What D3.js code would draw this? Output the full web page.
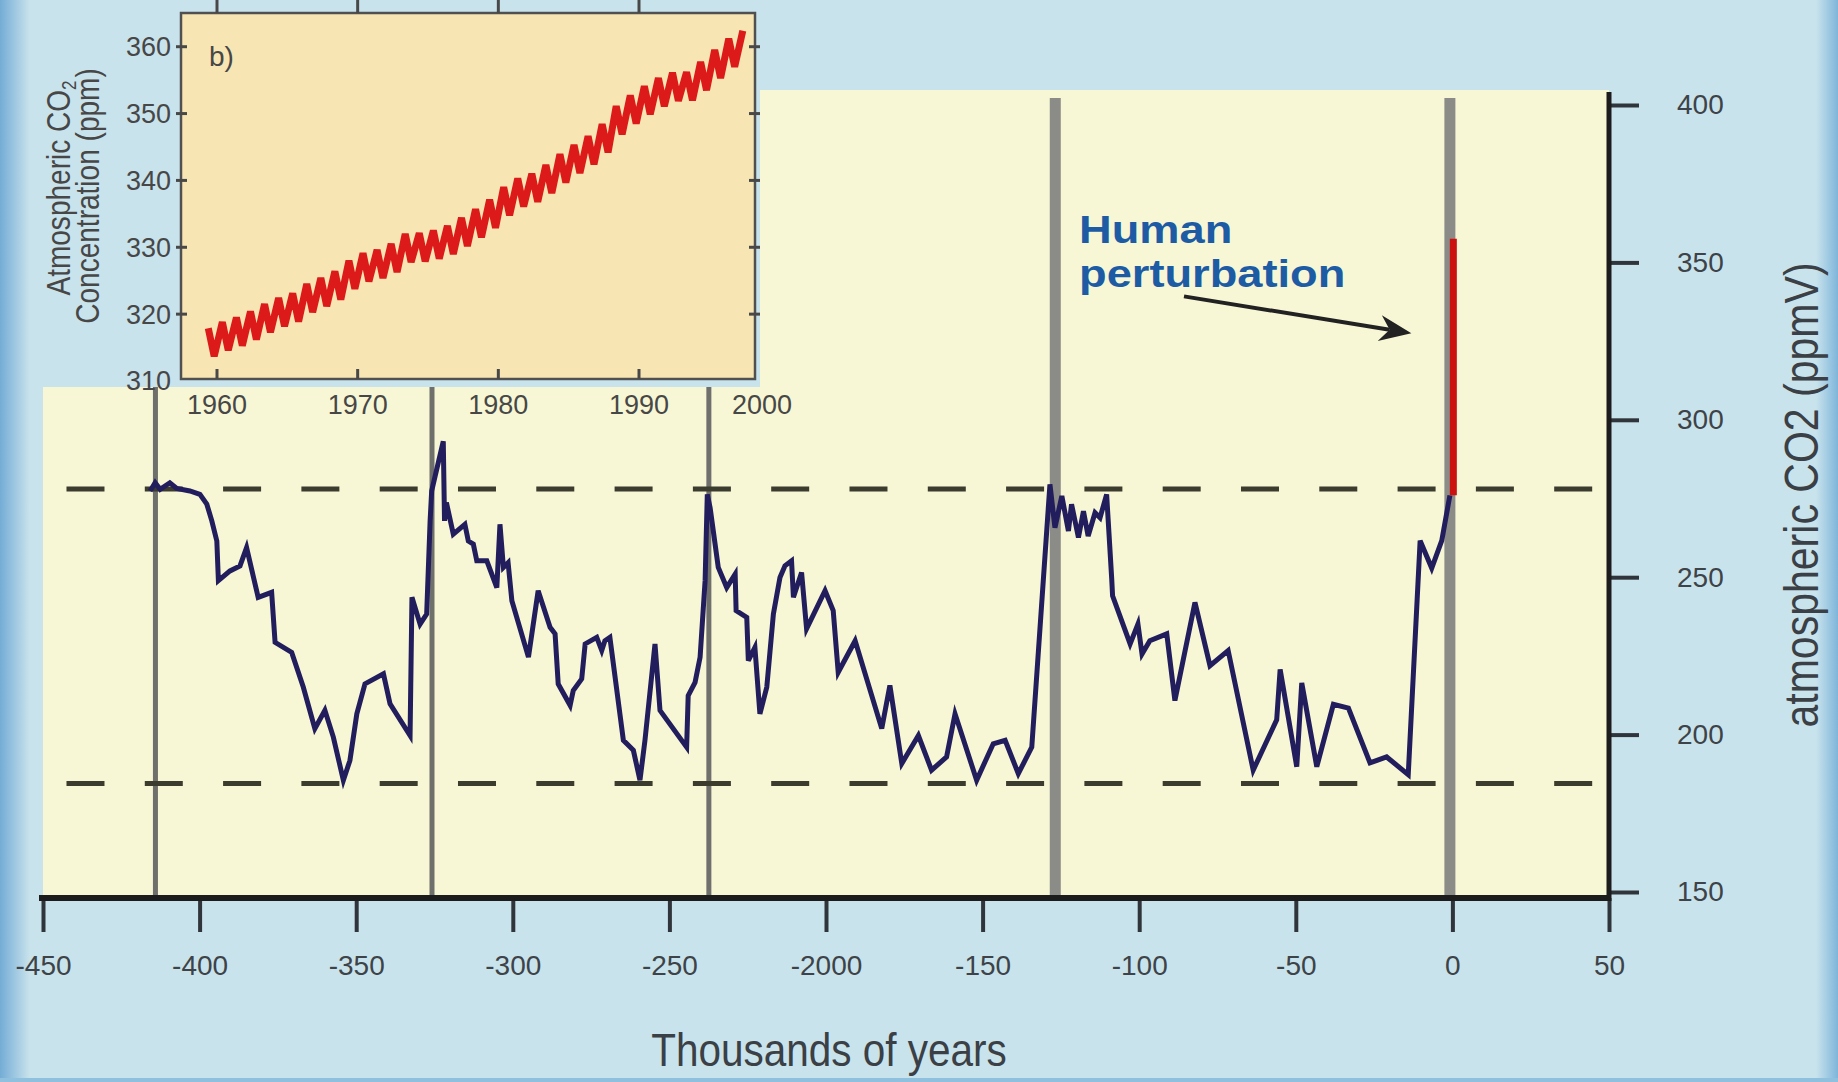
<!DOCTYPE html>
<html>
<head>
<meta charset="utf-8">
<script src="https://cdn.jsdelivr.net/npm/d3@7"></script>
<style>
  body { margin: 0; background: #c9e3ec; }
  svg { display: block; }
  text { font-family: "Liberation Sans", Arial, sans-serif; }
</style>
</head>
<body>
<div id="chart"></div>
<script>
// Vostok ice core CO2, thousands of years before present
const vostokAge = [
  -415.8, -414.2, -412.6, -409.5, -407.3, -403.1, -399.9, -397.7, -396.1, -394.5,
  -394.0, -390.3, -387.1, -385.0, -381.3, -377.0, -375.9, -370.6, -366.9, -363.2,
  -360.0, -357.3, -354.1, -352.0, -349.8, -347.2, -341.3, -339.2, -332.8, -332.2,
  -329.6, -327.5, -326.4, -325.9, -322.2, -321.8, -321.2, -319.0, -315.3, -314.2,
  -312.6, -311.5, -308.3, -305.1, -304.1, -303.0, -301.5, -300.3, -295.0, -291.9,
  -288.1, -286.5, -285.5, -281.7, -280.7, -278.0, -276.9, -273.2, -271.6, -270.6,
  -269.0, -264.7, -261.5, -259.4, -257.8, -254.6, -253.0, -244.5, -244.0, -241.8,
  -240.2, -238.6, -237.9, -237.0, -234.4, -231.7, -229.0, -228.7, -225.3, -224.8,
  -222.7, -221.1, -218.9, -216.8, -214.7, -213.1, -211.0, -210.4, -207.8, -206.2,
  -200.3, -197.7, -196.1, -190.7, -182.2, -179.6, -175.8, -170.5, -166.3, -161.5,
  -158.8, -151.9, -146.6, -142.8, -138.6, -134.3, -128.5, -126.9, -124.7, -122.6,
  -121.6, -119.4, -117.8, -116.3, -114.1, -112.5, -110.4, -108.8, -108.5, -102.9,
  -100.4, -99.1, -96.6, -91.2, -88.6, -82.2, -77.4, -71.6, -63.6, -56.1,
  -55.0, -49.7, -48.1, -43.3, -38.0, -33.2, -26.3, -21.0, -14.1, -10.3,
  -6.6, -3.4, -0.8
];
const vostokCO2 = [
  277.4, 280.0, 277.9, 280.0, 278.2, 277.4, 276.3, 273.2, 267.9, 261.5,
  248.9, 252.0, 253.6, 259.4, 243.6, 245.2, 229.3, 226.1, 215.1, 201.9,
  207.7, 199.2, 185.5, 191.8, 206.6, 216.1, 219.3, 209.8, 199.7, 243.6,
  235.1, 238.3, 267.9, 277.4, 293.2, 267.9, 273.7, 263.7, 266.8, 261.5,
  260.5, 255.2, 255.2, 246.7, 266.8, 253.1, 254.6, 242.5, 224.6, 245.7,
  234.1, 232.0, 216.1, 209.3, 214.0, 217.7, 228.8, 230.9, 226.7, 229.8,
  230.9, 198.2, 195.0, 185.5, 198.2, 228.8, 207.7, 196.0, 212.4, 216.6,
  224.6, 248.9, 276.3, 272.1, 253.1, 246.7, 251.0, 239.4, 237.2, 223.5,
  227.7, 206.6, 215.1, 238.3, 249.9, 253.6, 255.2, 243.6, 251.5, 233.6,
  245.7, 239.4, 219.8, 229.8, 201.9, 215.6, 190.8, 199.7, 188.7, 192.9,
  206.6, 185.5, 197.1, 198.2, 187.6, 196.0, 279.5, 265.7, 275.8, 264.7,
  273.2, 262.6, 271.0, 263.1, 270.5, 268.9, 276.3, 249.9, 244.1, 228.8,
  235.1, 225.6, 229.8, 232.0, 210.8, 242.0, 221.9, 226.7, 188.7, 204.7,
  220.7, 189.8, 216.4, 189.8, 209.6, 208.4, 191.0, 192.9, 187.3, 261.6,
  252.9, 261.6, 276.0
];

// interglacial markers (kyr) and which ones are drawn wide
const interglacialAge = [-414.1, -325.8, -237.4, -126.8, -0.8];
const interglacialWide = [false, false, false, true, true];

// natural range guides (ppmV)
const rangeLevels = [278, 184.5];
const rangeSpan = [-442.5, 45];

// human perturbation: age and CO2 range
const humanAge = 0.3;
const humanCO2 = [276, 357.5];

// annotation: label position, arrow start and tip
const noteLines = ['Human', 'perturbation'];
const noteAt = [-119.2, 356.3, 342.3];
const arrowFrom = [-85.7, 339.2];
const arrowTo = [-13.1, 327.5];

const xTicks = [-450, -400, -350, -300, -250, -200, -150, -100, -50, 0, 50];
const xTickLabels = ['-450', '-400', '-350', '-300', '-250', '-2000', '-150', '-100', '-50', '0', '50'];
const yTicks = [150, 200, 250, 300, 350, 400];

// inset b): Mauna Loa, yearly high and low as drawn
const maunaYears = [
  1959, 1960, 1961, 1962, 1963, 1964, 1965, 1966, 1967, 1968,
  1969, 1970, 1971, 1972, 1973, 1974, 1975, 1976, 1977, 1978,
  1979, 1980, 1981, 1982, 1983, 1984, 1985, 1986, 1987, 1988,
  1989, 1990, 1991, 1992, 1993, 1994, 1995, 1996, 1997
];
const maunaHigh = [
  317.9, 318.8, 319.5, 320.4, 321.5, 322.4, 323.1, 324.5, 325.4, 326.4,
  328.0, 329.1, 329.6, 330.5, 332.0, 332.1, 332.5, 333.2, 334.4, 335.7,
  337.1, 339.0, 340.3, 341.0, 342.3, 343.9, 345.3, 346.6, 348.4, 351.1,
  352.7, 354.1, 355.3, 356.1, 356.2, 357.7, 359.5, 361.2, 362.4
];
const maunaLow = [
  313.7, 314.6, 315.3, 316.2, 317.3, 318.2, 318.9, 320.3, 321.2, 322.2,
  323.8, 324.9, 325.4, 326.3, 327.8, 327.9, 328.3, 329.0, 330.2, 331.5,
  332.9, 334.8, 336.1, 336.8, 338.1, 339.7, 341.1, 342.4, 344.2, 346.9,
  348.5, 349.9, 351.1, 351.9, 352.0, 353.5, 355.3, 357.0, 358.2
];
const insetXTicks = [1960, 1970, 1980, 1990, 2000];
const insetYTicks = [310, 320, 330, 340, 350, 360];


const W = 1838, H = 1082;
const BG = '#c9e3ec';
const AXIS_Y = 898; // bottom axis line sits a little under the 150 tick

const svg = d3.select('#chart')
  .append('svg')
  .attr('width', W)
  .attr('height', H);

const defs = svg.append('defs');
const edgeGrad = (id, from, to) => {
  const g = defs.append('linearGradient').attr('id', id)
    .attr('x1', 0).attr('x2', 1).attr('y1', 0).attr('y2', 0);
  g.append('stop').attr('offset', 0).attr('stop-color', from);
  g.append('stop').attr('offset', 1).attr('stop-color', to);
};
edgeGrad('edgeL', '#74acd6', BG);
edgeGrad('edgeR', BG, '#7fb5da');

svg.append('rect').attr('width', W).attr('height', H).attr('fill', BG);
svg.append('rect').attr('x', 0).attr('width', 30).attr('height', H).attr('fill', 'url(#edgeL)');
svg.append('rect').attr('x', W - 22).attr('width', 22).attr('height', H).attr('fill', 'url(#edgeR)');
svg.append('rect').attr('y', H - 4).attr('width', W).attr('height', 4).attr('fill', '#8fc0de');

const x = d3.scaleLinear().domain([-450, 50]).range([43, 1609]);
const y = d3.scaleLinear().domain([150, 400]).range([892, 105]);

// pale plot area, cut away in the top left where the inset sits
const plotL = x(-450), plotR = x(50), plotT = 90, cutX = 760, cutY = 387;
svg.append('path')
  .attr('d', `M${plotL},${cutY} H${cutX} V${plotT} H${plotR} V${AXIS_Y} H${plotL} Z`)
  .attr('fill', '#f7f7d6');

// interglacial bars
svg.append('g')
  .selectAll('rect')
  .data(interglacialAge)
  .join('rect')
  .attr('x', (d, i) => x(d) - (interglacialWide[i] ? 5.5 : 2.5))
  .attr('width', (d, i) => interglacialWide[i] ? 11 : 5)
  .attr('y', (d, i) => interglacialWide[i] ? 98 : cutY)
  .attr('height', (d, i) => AXIS_Y - (interglacialWide[i] ? 98 : cutY))
  .attr('fill', (d, i) => interglacialWide[i] ? '#8b8b88' : '#6f6f6c');

// dashed range lines
svg.append('g')
  .selectAll('line')
  .data(rangeLevels)
  .join('line')
  .attr('x1', x(rangeSpan[0]))
  .attr('x2', x(rangeSpan[1]))
  .attr('y1', d => y(d))
  .attr('y2', d => y(d))
  .attr('stroke', '#3b3b2e')
  .attr('stroke-width', 5)
  .attr('stroke-dasharray', '38 40.3');

// ice core record
const vostok = vostokAge.map((a, i) => [a, vostokCO2[i]]);
svg.append('path')
  .datum(vostok)
  .attr('d', d3.line().x(d => x(d[0])).y(d => y(d[1])))
  .attr('fill', 'none')
  .attr('stroke', '#221d5c')
  .attr('stroke-width', 5)
  .attr('stroke-linejoin', 'miter');

// human perturbation
svg.append('line')
  .attr('x1', x(humanAge)).attr('x2', x(humanAge))
  .attr('y1', y(humanCO2[0])).attr('y2', y(humanCO2[1]))
  .attr('stroke', '#cc1111')
  .attr('stroke-width', 7);

// label is a wide bold face, so stretch it a little
const note = svg.append('g');
noteLines.forEach((t, i) => {
  note.append('text')
    .attr('transform', `translate(${x(noteAt[0])},${y(noteAt[i + 1])}) scale(1.16,1)`)
    .attr('font-size', 39)
    .attr('font-weight', 'bold')
    .attr('fill', '#1d5ca4')
    .text(t);
});

// arrow with a notched head
const S = [x(arrowFrom[0]), y(arrowFrom[1])];
const T = [x(arrowTo[0]), y(arrowTo[1])];
const len = Math.hypot(T[0] - S[0], T[1] - S[1]);
const u = [(T[0] - S[0]) / len, (T[1] - S[1]) / len];
const n = [-u[1], u[0]];
const B = [T[0] - 32 * u[0], T[1] - 32 * u[1]];
const N = [T[0] - 22 * u[0], T[1] - 22 * u[1]];
note.append('line')
  .attr('x1', S[0]).attr('y1', S[1])
  .attr('x2', N[0]).attr('y2', N[1])
  .attr('stroke', '#222')
  .attr('stroke-width', 4);
note.append('path')
  .attr('d', `M${T} L${B[0] + 13 * n[0]},${B[1] + 13 * n[1]} L${N} L${B[0] - 13 * n[0]},${B[1] - 13 * n[1]} Z`)
  .attr('fill', '#222');

// bottom axis
const xAxis = svg.append('g')
  .attr('transform', `translate(0,${AXIS_Y})`)
  .call(d3.axisBottom(x)
    .tickValues(xTicks)
    .tickSize(34)
    .tickSizeOuter(0)
    .tickPadding(23)
    .tickFormat((d, i) => xTickLabels[i]));
xAxis.select('.domain').remove();
xAxis.selectAll('.tick line').attr('stroke', '#2f353a').attr('stroke-width', 4);
xAxis.selectAll('.tick text')
  .attr('font-size', 28)
  .attr('font-family', '"Liberation Sans", Arial, sans-serif')
  .attr('fill', '#3d4348');
svg.append('line')
  .attr('x1', plotL - 4).attr('x2', plotR + 2)
  .attr('y1', AXIS_Y).attr('y2', AXIS_Y)
  .attr('stroke', '#1c1c1c')
  .attr('stroke-width', 6);

// right axis
const yAxis = svg.append('g')
  .attr('transform', `translate(${plotR},0)`)
  .call(d3.axisRight(y)
    .tickValues(yTicks)
    .tickSize(30)
    .tickSizeOuter(0)
    .tickPadding(38));
yAxis.select('.domain').remove();
yAxis.selectAll('.tick line').attr('stroke', '#2f353a').attr('stroke-width', 4);
yAxis.selectAll('.tick text')
  .attr('font-size', 28)
  .attr('font-family', '"Liberation Sans", Arial, sans-serif')
  .attr('fill', '#3d4348');
svg.append('line')
  .attr('x1', plotR).attr('x2', plotR)
  .attr('y1', 92).attr('y2', AXIS_Y + 3)
  .attr('stroke', '#1c1c1c')
  .attr('stroke-width', 5);

svg.append('text')
  .attr('transform', 'translate(829,1066) scale(0.88,1)')
  .attr('text-anchor', 'middle')
  .attr('font-size', 46)
  .attr('fill', '#3a4045')
  .text('Thousands of years');

svg.append('text')
  .attr('transform', 'translate(1818,495) rotate(-90) scale(0.855,1)')
  .attr('text-anchor', 'middle')
  .attr('font-size', 48)
  .attr('fill', '#3a4045')
  .text('atmospheric CO2 (ppmV)');


// ---- inset b) ----
const box = { x0: 181, x1: 755, y0: 13, y1: 379 };
const xIn = d3.scaleLinear().domain([1960, 1990]).range([217, 639]);
const yIn = d3.scaleLinear().domain([310, 360]).range([381, 46.7]);
const inset = svg.append('g');

inset.append('rect')
  .attr('x', box.x0).attr('y', box.y0)
  .attr('width', box.x1 - box.x0).attr('height', box.y1 - box.y0)
  .attr('fill', '#f7e5b3');

const mauna = maunaYears.flatMap((yr, i) => [[yr + 0.38, maunaHigh[i]], [yr + 0.8, maunaLow[i]]]);
mauna.pop(); // record stops after the last spring high
inset.append('path')
  .datum(mauna)
  .attr('d', d3.line().x(d => xIn(d[0])).y(d => yIn(d[1])))
  .attr('fill', 'none')
  .attr('stroke', '#dd1a1a')
  .attr('stroke-width', 7)
  .attr('stroke-linejoin', 'miter');

inset.append('rect')
  .attr('x', box.x0).attr('y', box.y0)
  .attr('width', box.x1 - box.x0).attr('height', box.y1 - box.y0)
  .attr('fill', 'none')
  .attr('stroke', '#505050')
  .attr('stroke-width', 2.5);

const inTick = (x1, y1, x2, y2) => {
  inset.append('line')
    .attr('x1', x1).attr('y1', y1).attr('x2', x2).attr('y2', y2)
    .attr('stroke', '#484848')
    .attr('stroke-width', 3);
};
insetXTicks.filter(d => xIn(d) < box.x1).forEach(d => {
  inTick(xIn(d), 0, xIn(d), box.y0);
  inTick(xIn(d), box.y1 - 10, xIn(d), box.y1);
});
insetYTicks.filter(d => d > 310).forEach(d => {
  inTick(box.x0 - 5, yIn(d), box.x0 + 6, yIn(d));
  inTick(box.x1 - 6, yIn(d), box.x1 + 5, yIn(d));
});

inset.append('g')
  .selectAll('text')
  .data(insetYTicks)
  .join('text')
  .attr('x', 171)
  .attr('y', d => yIn(d))
  .attr('dy', '0.35em')
  .attr('text-anchor', 'end')
  .attr('font-size', 27)
  .attr('fill', '#474747')
  .text(d => d);

inset.append('g')
  .selectAll('text')
  .data(insetXTicks)
  .join('text')
  .attr('x', d => Math.min(xIn(d), 762)) // 2000 is squeezed in under the corner
  .attr('y', 414)
  .attr('text-anchor', 'middle')
  .attr('font-size', 27)
  .attr('fill', '#474747')
  .text(d => d);

inset.append('text')
  .attr('x', 209).attr('y', 66)
  .attr('font-size', 28)
  .attr('fill', '#474747')
  .text('b)');

const t1 = inset.append('text')
  .attr('transform', 'translate(70,188) rotate(-90) scale(0.85,1)')
  .attr('text-anchor', 'middle')
  .attr('font-size', 33)
  .attr('fill', '#474747');
t1.append('tspan').text('Atmospheric CO');
t1.append('tspan').attr('font-size', 20).attr('dy', 6).text('2');

inset.append('text')
  .attr('transform', 'translate(99,196) rotate(-90) scale(0.85,1)')
  .attr('text-anchor', 'middle')
  .attr('font-size', 33)
  .attr('fill', '#474747')
  .text('Concentration (ppm)');
</script>
</body>
</html>
